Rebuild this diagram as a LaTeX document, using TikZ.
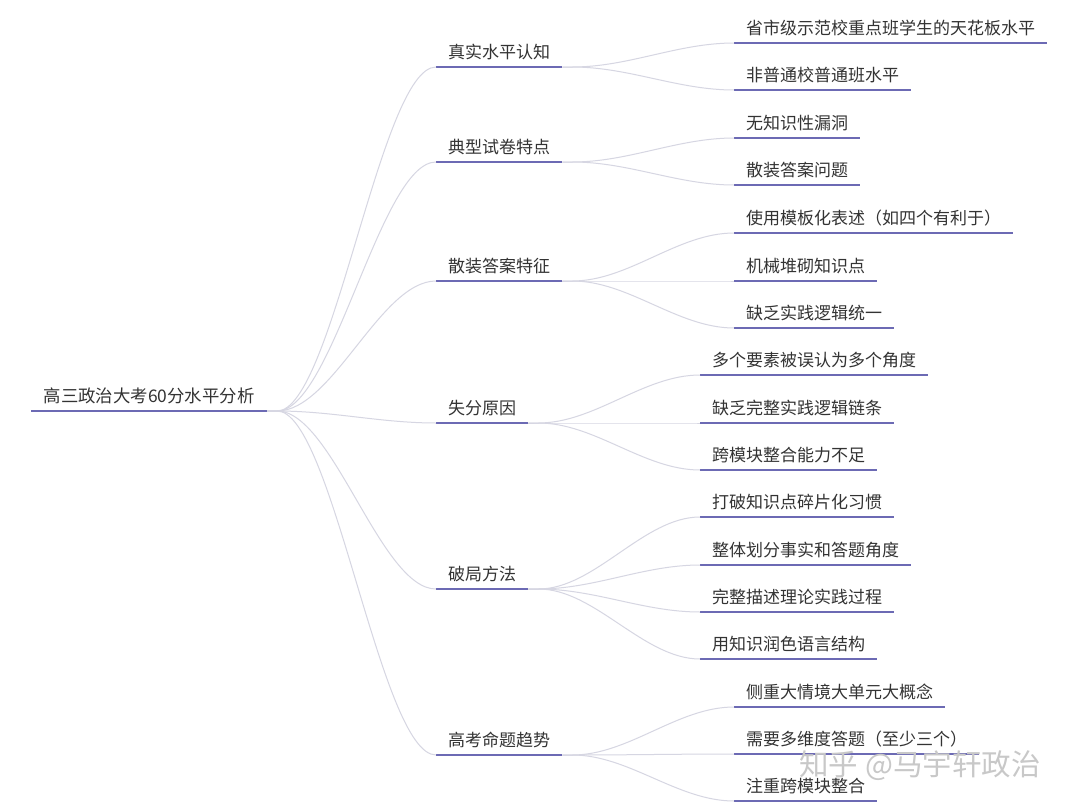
\documentclass[tikz,border=0pt]{standalone}
\usepackage{fontspec}
\newfontfamily\cjk{Noto Sans CJK SC}
\usetikzlibrary{calc}
\definecolor{ulcol}{RGB}{108,106,180}
\definecolor{conncol}{RGB}{214,214,226}
\definecolor{txtcol}{RGB}{51,51,51}
\definecolor{wmcol}{RGB}{200,200,200}
\tikzset{
  topic/.style={anchor=south west, inner xsep=12pt, inner ysep=5.5pt, text height=12pt, text depth=3pt,
    font=\cjk\fontsize{17}{20}\selectfont, text=txtcol},
  roottopic/.style={topic, inner xsep=12.5pt, inner ysep=5.5pt, font=\cjk\fontsize{17.4}{21}\selectfont},
  uline/.style={draw=ulcol, line width=2.6pt},
  conn/.style={draw=conncol, line width=1pt},
}
\newcommand\tnode[5][topic]{%
  \node[#1] (#2) at (#3,#4) {#5};
  \draw[uline] (#2.south west) -- (#2.south east);}
\newcommand\link[2]{%
  \draw[conn] let \p1=(#1.south east), \p2=(#2.south west), \n1={0.35*(\x2-\x1-10pt)} in
    (\p1) -- ($(\p1)+(10pt,0pt)$) .. controls ($(\p1)+(10pt+\n1,0pt)$) and ($(\p2)-(\n1,0pt)$) .. (\p2);}
\begin{document}
\begin{tikzpicture}[x=1pt,y=-1pt]
\fill[white] (0,0) rectangle (1080,809);
\useasboundingbox (0,0) rectangle (1080,809);

% root
\tnode[roottopic]{R}{31}{411}{高三政治大考60分水平分析}

% level 1
\tnode{A}{436}{67}{真实水平认知}
\tnode{B}{436}{162}{典型试卷特点}
\tnode{C}{436}{281}{散装答案特征}
\tnode{D}{436}{423}{失分原因}
\tnode{E}{436}{589}{破局方法}
\tnode{F}{436}{755}{高考命题趋势}

% level 2
\tnode{a1}{734}{43}{省市级示范校重点班学生的天花板水平}
\tnode{a2}{734}{90}{非普通校普通班水平}
\tnode{b1}{734}{138}{无知识性漏洞}
\tnode{b2}{734}{185}{散装答案问题}
\tnode{c1}{734}{233}{使用模板化表述（如四个有利于）}
\tnode{c2}{734}{281}{机械堆砌知识点}
\tnode{c3}{734}{328}{缺乏实践逻辑统一}
\tnode{d1}{700}{375}{多个要素被误认为多个角度}
\tnode{d2}{700}{423}{缺乏完整实践逻辑链条}
\tnode{d3}{700}{470}{跨模块整合能力不足}
\tnode{e1}{700}{517}{打破知识点碎片化习惯}
\tnode{e2}{700}{565}{整体划分事实和答题角度}
\tnode{e3}{700}{612}{完整描述理论实践过程}
\tnode{e4}{700}{659}{用知识润色语言结构}
\tnode{f1}{734}{707}{侧重大情境大单元大概念}
\tnode{f2}{734}{754}{需要多维度答题（至少三个）}
\tnode{f3}{734}{801}{注重跨模块整合}

% connectors
\foreach \c in {A,B,C,D,E,F} {\link{R}{\c}}
\foreach \c in {a1,a2} {\link{A}{\c}}
\foreach \c in {b1,b2} {\link{B}{\c}}
\foreach \c in {c1,c2,c3} {\link{C}{\c}}
\foreach \c in {d1,d2,d3} {\link{D}{\c}}
\foreach \c in {e1,e2,e3,e4} {\link{E}{\c}}
\foreach \c in {f1,f2,f3} {\link{F}{\c}}

% watermark
\node[font=\cjk\fontsize{29.5}{32}\selectfont, text=wmcol, inner sep=0pt] (wm) at (920,766) {知乎 @马宇轩政治};
\end{tikzpicture}
\end{document}
